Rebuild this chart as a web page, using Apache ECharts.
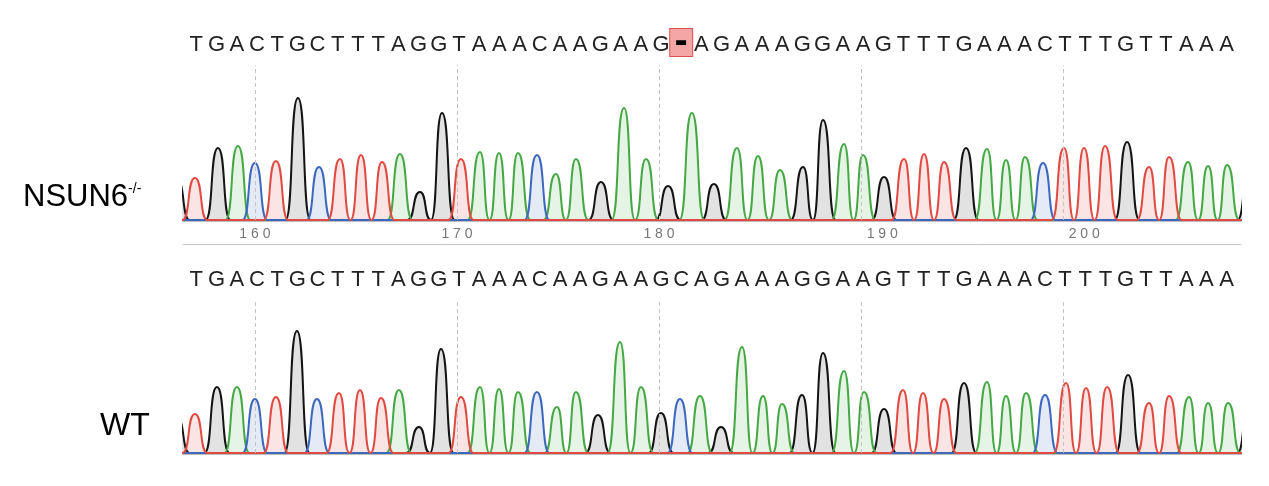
<!DOCTYPE html>
<html>
<head>
<meta charset="utf-8">
<script src="https://cdn.jsdelivr.net/npm/echarts@6/dist/echarts.min.js"></script>
<style>
  html, body { margin: 0; background: #fff; }
  #chart { width: 1269px; height: 486px; }
</style>
</head>
<body>
<div id="chart"></div>
<script>
// aligned sequence letters, first letter is base 157
var seqStart = 157;
var mutSeq = 'TGACTGCTTTAGGTAAACAAGAAG-AGAAAGGAAGTTTGAAACTTTGTTAAA';
var wtSeq = 'TGACTGCTTTAGGTAAACAAGAAGCAGAAAGGAAGTTTGAAACTTTGTTAAA';

// dashed guide lines and the trace numbering (shifted by one after the deletion)
var guideValues = [160, 170, 180, 190, 200];
var numLabelPos = [160, 170, 180, 191.05, 201.05];
var numLabels = ['160', '170', '180', '190', '200'];

// NSUN6-/- trace: called base, peak position, peak height
var mutCalls = 'GTGACTGCTTTAGGTAAACAAGAAGAGAAAGGAAGTTTGAAACTTTGTTAAAG';
var mutPos = [156.15, 157.03, 158.17, 159.16, 160.00, 161.04, 162.13, 163.17, 164.21, 165.25,
  166.29, 167.18, 168.17, 169.26, 170.20, 171.14, 172.08, 173.02, 173.96, 174.90,
  175.89, 177.13, 178.27, 179.36, 180.45, 181.63, 182.72, 183.86, 184.90, 185.99,
  187.13, 188.12, 189.16, 190.10, 191.14, 192.13, 193.12, 194.11, 195.20, 196.24,
  197.18, 198.12, 199.01, 200.05, 201.04, 202.08, 203.17, 204.26, 205.25, 206.19,
  207.18, 208.12, 209.25];
var mutHeight = [40, 42, 72, 74, 57, 59, 122, 53, 61, 65,
  58, 66, 28, 107, 61, 68, 67, 67, 65, 46,
  61, 38, 112, 61, 34, 107, 36, 72, 64, 50,
  53, 100, 76, 65, 43, 61, 66, 58, 72, 71,
  60, 63, 57, 72, 72, 74, 78, 53, 63, 58,
  54, 55, 60];

// WT trace
var wtCalls = 'GTGACTGCTTTAGGTAAACAAGAAGCAGAAAGGAAGTTTGAAACTTTGTTAAAG';
var wtPos = [156.15, 157.03, 158.12, 159.11, 160.00, 161.04, 162.08, 163.07, 164.16, 165.20,
  166.24, 167.13, 168.12, 169.21, 170.20, 171.14, 172.08, 173.02, 173.96, 174.95,
  175.89, 176.98, 178.07, 179.11, 180.10, 181.04, 182.03, 183.07, 184.11, 185.15,
  186.09, 187.08, 188.12, 189.16, 190.15, 191.14, 192.08, 193.07, 194.11, 195.10,
  196.24, 197.18, 198.17, 199.11, 200.15, 201.14, 202.18, 203.22, 204.26, 205.25,
  206.24, 207.18, 208.17, 209.25];
var wtHeight = [35, 39, 66, 66, 54, 56, 122, 54, 60, 63,
  55, 63, 26, 104, 56, 66, 64, 61, 61, 46,
  61, 38, 111, 66, 40, 54, 57, 26, 106, 57,
  49, 58, 100, 82, 61, 44, 63, 60, 54, 70,
  71, 57, 60, 58, 70, 65, 66, 78, 50, 57,
  56, 50, 50, 60];

var xMin = 156.44, xMax = 208.81;
var FONT = "'Liberation Sans', Arial, sans-serif";
var bases = ['G', 'A', 'C', 'T'];
var lineColor = { A: '#45a845', C: '#3d68bd', G: '#141414', T: '#df4a42' };
var fillColor = {
  A: 'rgba(76,175,80,0.2)',
  C: 'rgba(61,104,189,0.2)',
  G: 'rgba(0,0,0,0.16)',
  T: 'rgba(223,74,66,0.2)'
};

// peak half width at the baseline, in bases
var W = 0.62;

// one trace per base: baseline, then foot - peak - foot for every call of that base
function trace(calls, pos, hgt, base) {
  var pts = [[150, 0]];
  var last = null;
  for (var i = 0; i < calls.length; i++) {
    if (calls[i] !== base) continue;
    var p = pos[i];
    if (last !== null && p - W < last + W) {
      pts.pop();
      pts.push([(last + p) / 2, 0]);
    } else {
      pts.push([p - W, 0]);
    }
    pts.push([p, hgt[i]]);
    pts.push([p + W, 0]);
    last = p;
  }
  pts.push([215, 0]);
  return pts;
}

function traceSeries(calls, pos, hgt, xIdx, yIdx) {
  var list = [{
    type: 'line',
    xAxisIndex: xIdx,
    yAxisIndex: yIdx,
    data: [],
    z: 1,
    silent: true,
    markLine: {
      symbol: 'none',
      silent: true,
      label: { show: false },
      lineStyle: { color: '#c2c2c2', type: [4, 3], width: 1 },
      data: guideValues.map(function (v) { return { xAxis: v }; })
    }
  }];
  bases.forEach(function (b) {
    list.push({
      type: 'line',
      xAxisIndex: xIdx,
      yAxisIndex: yIdx,
      data: trace(calls, pos, hgt, b),
      showSymbol: false,
      smooth: 0.65,
      smoothMonotone: 'x',
      z: 2,
      lineStyle: { color: lineColor[b], width: 2 },
      areaStyle: { color: fillColor[b], origin: 0 }
    });
  });
  return list;
}

function letterAxis(gridIndex, seq) {
  var vals = [];
  for (var i = 0; i < seq.length; i++) vals.push(seqStart + i + 0.1);
  return {
    type: 'value', gridIndex: gridIndex, position: 'top', min: xMin, max: xMax,
    axisLine: { show: false }, axisTick: { show: false }, splitLine: { show: false },
    axisLabel: {
      customValues: vals,
      margin: 9,
      fontSize: 22,
      fontFamily: FONT,
      color: '#222',
      formatter: function (v) {
        var ch = seq.charAt(Math.round(v - 0.1) - seqStart);
        return ch === '-' ? '{del|\u25ac}' : ch;
      },
      rich: {
        del: {
          backgroundColor: '#f4a6a6',
          borderColor: '#d9534f',
          borderWidth: 1,
          width: 22,
          height: 27,
          lineHeight: 27,
          align: 'center',
          fontSize: 13,
          color: '#000',
          fontFamily: "'DejaVu Sans', sans-serif"
        }
      }
    }
  };
}

var chart = echarts.init(document.getElementById('chart'));
var option = {
  animation: false,
  backgroundColor: '#fff',
  title: [
    {
      text: '{n|NSUN6}{s|-/-}',
      left: 18,
      top: 177,
      textStyle: {
        fontWeight: 'normal',
        rich: {
          n: { fontSize: 31, fontWeight: 'normal', fontFamily: FONT, color: '#000' },
          s: { fontSize: 14, fontWeight: 'normal', fontFamily: FONT, color: '#000', padding: [0, 0, 16, 0] }
        }
      }
    },
    {
      text: 'WT',
      left: 95,
      top: 405,
      textStyle: { fontSize: 32, fontWeight: 'normal', fontFamily: FONT, color: '#000' }
    }
  ],
  grid: [
    { left: 183, right: 28, top: 65, height: 155 },
    { left: 183, right: 28, top: 300, height: 153 }
  ],
  xAxis: [
    {
      type: 'value', gridIndex: 0, position: 'bottom', min: xMin, max: xMax, offset: 1,
      axisLine: { show: true, onZero: false, lineStyle: { color: '#bdbdbd', width: 2 } },
      axisTick: { show: false }, splitLine: { show: false },
      axisLabel: {
        customValues: numLabelPos,
        margin: 6,
        fontSize: 14,
        fontFamily: FONT,
        color: '#777',
        formatter: function (v) {
          var best = 0;
          for (var i = 1; i < numLabelPos.length; i++) {
            if (Math.abs(numLabelPos[i] - v) < Math.abs(numLabelPos[best] - v)) best = i;
          }
          return numLabels[best].split('').join(' ');
        }
      }
    },
    letterAxis(0, mutSeq),
    {
      type: 'value', gridIndex: 0, position: 'bottom', min: xMin, max: xMax, offset: 24,
      axisLine: { show: true, onZero: false, lineStyle: { color: '#c4c4c4', width: 1 } },
      axisTick: { show: false }, axisLabel: { show: false }, splitLine: { show: false }
    },
    {
      type: 'value', gridIndex: 1, position: 'bottom', min: xMin, max: xMax, offset: 1,
      axisLine: { show: true, onZero: false, lineStyle: { color: '#bdbdbd', width: 2 } },
      axisTick: { show: false }, axisLabel: { show: false }, splitLine: { show: false }
    },
    letterAxis(1, wtSeq)
  ],
  yAxis: [
    { type: 'value', gridIndex: 0, min: 0, max: 155, show: false, splitLine: { show: false } },
    { type: 'value', gridIndex: 1, min: 0, max: 153, show: false, splitLine: { show: false } }
  ],
  series: traceSeries(mutCalls, mutPos, mutHeight, 0, 0)
    .concat(traceSeries(wtCalls, wtPos, wtHeight, 3, 1))
};
chart.setOption(option);
</script>
</body>
</html>
